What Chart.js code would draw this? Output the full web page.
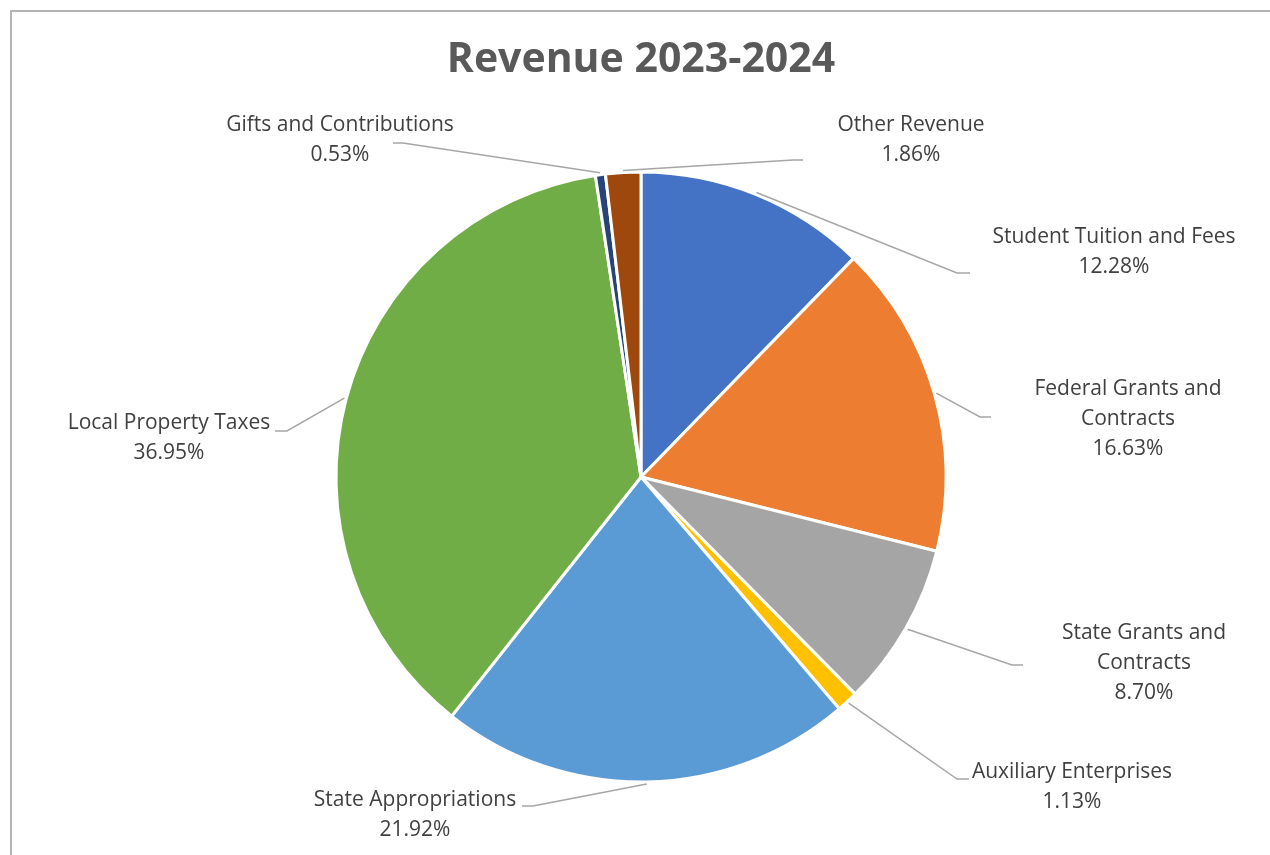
<!DOCTYPE html>
<html>
<head>
<meta charset="utf-8">
<script src="https://cdn.jsdelivr.net/npm/chart.js@4.4.0/dist/chart.umd.min.js"></script>
<style>
  html, body { margin: 0; padding: 0; background: #ffffff; }
  #wrap { position: relative; width: 1270px; height: 855px; overflow: hidden; }
  #frame { position: absolute; left: 10px; top: 10px; width: 1300px; height: 900px; border: 2px solid #b3b3b3; box-sizing: border-box; }
  canvas { position: absolute; left: 0; top: 0; }
</style>
</head>
<body>
<div id="wrap">
  <div id="frame"></div>
  <canvas id="myChart" width="1270" height="855"></canvas>
</div>
<script>
// --- Chart data ---
const chartTitle = 'Revenue 2023-2024';
const categories = [
  'Student Tuition and Fees',
  'Federal Grants and Contracts',
  'State Grants and Contracts',
  'Auxiliary Enterprises',
  'State Appropriations',
  'Local Property Taxes',
  'Gifts and Contributions',
  'Other Revenue'
];
const shares = [12.28, 16.63, 8.70, 1.13, 21.92, 36.95, 0.53, 1.86];
const sliceColors = ['#4472C4', '#ED7D31', '#A5A5A5', '#FFC000', '#5B9BD5', '#70AD47', '#264478', '#9E480E'];

// --- Label placement (text centre, elbow of leader line, end of short horizontal) ---
const labelLayout = [
  { x: 1114, y: 237, wrap: 400, elbow: [957, 273], end: [970, 273] },
  { x: 1128, y: 389, wrap: 210, elbow: [980, 417], end: [991, 417] },
  { x: 1144, y: 633, wrap: 195, elbow: [1012, 665], end: [1023, 665] },
  { x: 1072, y: 772, wrap: 400, elbow: [957, 779], end: [969, 779] },
  { x: 415,  y: 800, wrap: 400, elbow: [533, 806], end: [522, 806] },
  { x: 169,  y: 423, wrap: 400, elbow: [287, 431], end: [275, 431] },
  { x: 340,  y: 125, wrap: 400, elbow: [403, 143], end: [393, 143] },
  { x: 911,  y: 125, wrap: 400, elbow: [793, 160], end: [803, 160] }
];

const labelFont = '21px "Open Sans", sans-serif';
const lineHeight = 30;

function wrapText(ctx, text, maxWidth) {
  const words = text.split(' ');
  const lines = [];
  let current = '';
  words.forEach(w => {
    const test = current ? current + ' ' + w : w;
    if (ctx.measureText(test).width > maxWidth && current) {
      lines.push(current);
      current = w;
    } else {
      current = test;
    }
  });
  if (current) lines.push(current);
  return lines;
}

// --- Plugin: title, leader lines and data labels ---
const excelLabels = {
  id: 'excelLabels',
  afterDraw(chart) {
    const ctx = chart.ctx;
    const meta = chart.getDatasetMeta(0);
    ctx.save();

    // title
    ctx.fillStyle = '#595959';
    ctx.font = 'bold 41px "Open Sans", sans-serif';
    ctx.textAlign = 'center';
    ctx.textBaseline = 'middle';
    ctx.fillText(chartTitle, 641, 60);

    meta.data.forEach((arc, i) => {
      const lay = labelLayout[i];
      const mid = (arc.startAngle + arc.endAngle) / 2;
      const r = arc.outerRadius + 2;
      const sx = arc.x + Math.cos(mid) * r;
      const sy = arc.y + Math.sin(mid) * r;

      ctx.strokeStyle = '#a6a6a6';
      ctx.lineWidth = 1.5;
      ctx.beginPath();
      ctx.moveTo(sx, sy);
      ctx.lineTo(lay.elbow[0], lay.elbow[1]);
      ctx.lineTo(lay.end[0], lay.end[1]);
      ctx.stroke();

      ctx.font = labelFont;
      ctx.fillStyle = '#404040';
      ctx.textAlign = 'center';
      ctx.textBaseline = 'middle';
      const lines = wrapText(ctx, categories[i], lay.wrap);
      lines.push(shares[i].toFixed(2) + '%');
      lines.forEach((ln, k) => ctx.fillText(ln, lay.x, lay.y + k * lineHeight));
    });
    ctx.restore();
  }
};

const ctx = document.getElementById('myChart').getContext('2d');
const chart = new Chart(ctx, {
  type: 'pie',
  data: {
    labels: categories,
    datasets: [{
      data: shares,
      backgroundColor: sliceColors,
      borderColor: '#ffffff',
      borderWidth: 3
    }]
  },
  options: {
    responsive: false,
    animation: false,
    radius: 305,
    layout: { padding: { left: 336, right: 324, top: 172, bottom: 73 } },
    plugins: {
      legend: { display: false },
      tooltip: { enabled: false },
      title: { display: false }
    }
  },
  plugins: [excelLabels]
});
</script>
</body>
</html>
